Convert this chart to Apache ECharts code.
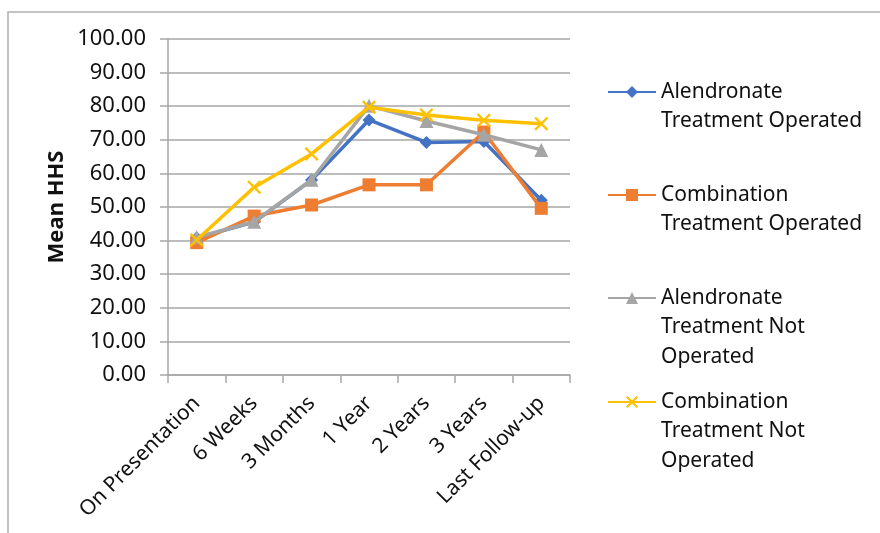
<!DOCTYPE html>
<html>
<head>
<meta charset="utf-8">
<script src="https://cdn.jsdelivr.net/npm/echarts@6/dist/echarts.min.js"></script>
<style>html,body{margin:0;padding:0;background:#fff}#c{width:880px;height:533px}</style>
</head>
<body>
<div id="c"></div>
<script>
var categories = ['On Presentation', '6 Weeks', '3 Months', '1 Year', '2 Years', '3 Years', 'Last Follow-up'];
var alendronateOperated = [40.8, 45.5, 58.0, 75.9, 69.2, 69.5, 52.0];
var combinationOperated = [39.4, 47.3, 50.6, 56.6, 56.6, 72.3, 49.6];
var alendronateNotOperated = [41.0, 45.6, 58.1, 80.1, 75.6, 71.5, 67.0];
var combinationNotOperated = [40.2, 55.9, 65.8, 79.7, 77.4, 75.8, 74.8];
var seriesNames = ['Alendronate\nTreatment Operated', 'Combination\nTreatment Operated', 'Alendronate\nTreatment Not\nOperated', 'Combination\nTreatment Not\nOperated'];
var yTicks = { min: 0, max: 100, interval: 10 };

var FONT = 'Noto Sans';
var xSym = 'path://M0,1.2 L1.2,0 L5,3.8 L8.8,0 L10,1.2 L6.2,5 L10,8.8 L8.8,10 L5,6.2 L1.2,10 L0,8.8 L3.8,5 Z';
var colors = ['#4472C4', '#ED7D31', '#A5A5A5', '#FFC000'];
var symbols = ['diamond', 'rect', 'triangle', xSym];
var sizes = [13, 13, 14, 14];
var datas = [alendronateOperated, combinationOperated, alendronateNotOperated, combinationNotOperated];

var LH = 29.5;
var firstLineY = [92, 195, 298, 402];
var legends = seriesNames.map(function (n, i) {
  var lines = n.split('\n').length;
  var blanks = lines - 1;
  return {
    data: [n],
    orient: 'vertical',
    left: 607,
    top: firstLineY[i] - (blanks + 0.5) * LH,
    padding: 0,
    itemWidth: 48,
    itemHeight: 15,
    itemGap: 0,
    selectedMode: false,
    formatter: function (name) {
      var c = name.split('\n').length - 1;
      var pre = '';
      for (var k = 0; k < c; k++) pre += ' \n';
      return pre + name;
    },
    textStyle: { fontFamily: FONT, fontSize: 21, color: '#111', lineHeight: LH, padding: [0, 0, 0, 0] }
  };
});

var chart = echarts.init(document.getElementById('c'), null, { renderer: 'canvas' });
chart.setOption({
  animation: false,
  backgroundColor: '#fff',
  color: colors,
  graphic: [{
    type: 'polyline',
    shape: { points: [[8, 560], [8, 12], [900, 12]] },
    style: { stroke: '#b0b0b0', lineWidth: 1.5, fill: null },
    silent: true
  }],
  legend: legends,
  grid: { left: 168, right: 310, top: 39, bottom: 158, containLabel: false },
  xAxis: {
    type: 'category',
    data: categories,
    boundaryGap: true,
    axisLine: { lineStyle: { color: '#a6a6a6', width: 1.5 } },
    axisTick: { show: true, length: 8, alignWithLabel: false, lineStyle: { color: '#a6a6a6', width: 1.5 } },
    axisLabel: { rotate: 45, interval: 0, fontFamily: FONT, fontSize: 21, color: '#111', margin: 25 }
  },
  yAxis: {
    type: 'value',
    min: yTicks.min, max: yTicks.max, interval: yTicks.interval,
    name: 'Mean HHS',
    nameLocation: 'middle',
    nameGap: 100,
    nameTextStyle: { fontFamily: FONT, fontSize: 22, fontWeight: 'bold', color: '#111' },
    axisLine: { show: true, lineStyle: { color: '#a6a6a6', width: 1.5 } },
    axisTick: { show: true, length: 8, lineStyle: { color: '#a6a6a6', width: 1.5 } },
    splitLine: { show: true, lineStyle: { color: '#a6a6a6', width: 1.5 } },
    axisLabel: {
      fontFamily: FONT, fontSize: 22, color: '#111', margin: 22,
      formatter: function (v) { return v.toFixed(2); }
    }
  },
  series: datas.map(function (d, i) {
    return {
      name: seriesNames[i],
      type: 'line',
      data: d,
      symbol: symbols[i],
      symbolSize: sizes[i],
      showAllSymbol: true,
      lineStyle: { width: 3.5, color: colors[i] },
      itemStyle: { color: colors[i] },
      z: 2 + i
    };
  })
});
</script>
</body>
</html>
